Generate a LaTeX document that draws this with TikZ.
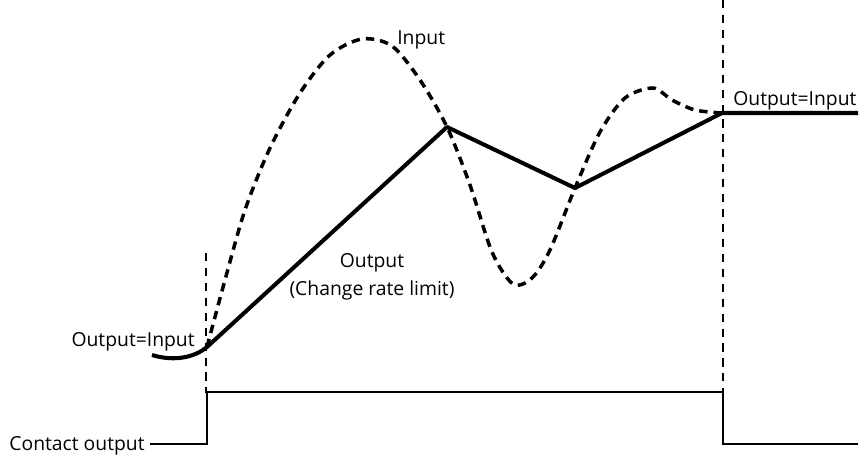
\documentclass[tikz,border=0pt]{standalone}
\usepackage{fontspec}
\setmainfont{Open Sans}
\usepackage{tikz}

\begin{document}
\begin{tikzpicture}[x=0.02cm,y=-0.02cm,
  outputline/.style={line width=2.3pt,line join=round},
  inputline/.style={line width=2pt,dash pattern=on 4.8pt off 3.4pt},
  guide/.style={line width=1.5pt,dash pattern=on 4.6pt off 3.9pt},
  contactline/.style={line width=1.6pt},
  lbl/.style={font=\fontsize{11}{13}\selectfont,inner sep=0pt}]
 \useasboundingbox (0,0) rectangle (867,457);
 \coordinate (switchon) at (207,347);
 \coordinate (top) at (447,127);
 \coordinate (dip) at (575,188);
 \coordinate (switchoff) at (722,113);
 % guides at switching times
 \draw[guide] (206,253) -- (206,393);
 \draw[guide] (723,0) -- (723,393);
 % input signal
 \draw[inputline] plot[smooth] coordinates
  {(switchon) (225,280) (245,210) (270,148) (300,93) (330,55) (362,39) (392,46)
   (420,80) (top) (470,185) (492,252) (513,284) (532,278) (550,250) (dip)
   (600,132) (625,98) (653,88) (672,100) (695,110) (switchoff)};
 % output signal
 \draw[outputline] (152,355) .. controls (175,362) and (195,357) .. (switchon)
   -- (top) -- (dip) -- (switchoff) -- (858,113);
 % contact output
 \draw[contactline] (150,444) -- (207,444) -- (207,392) -- (723,392)
   -- (723,444) -- (858,444);
 \node[lbl,anchor=base west] (inlbl) at (397,44) {Input};
 \node[lbl,anchor=base west] (eqright) at (733,105) {Output=Input};
 \node[lbl,anchor=base east] (eqleft) at (195,346) {Output=Input};
 \node[lbl,anchor=base] (outlbl) at (372,267) {Output};
 \node[lbl,anchor=base] (ratelbl) at (372,295) {(Change rate limit)};
 \node[lbl,anchor=base east] (contactlbl) at (145,450) {Contact output};
\end{tikzpicture}
\end{document}
